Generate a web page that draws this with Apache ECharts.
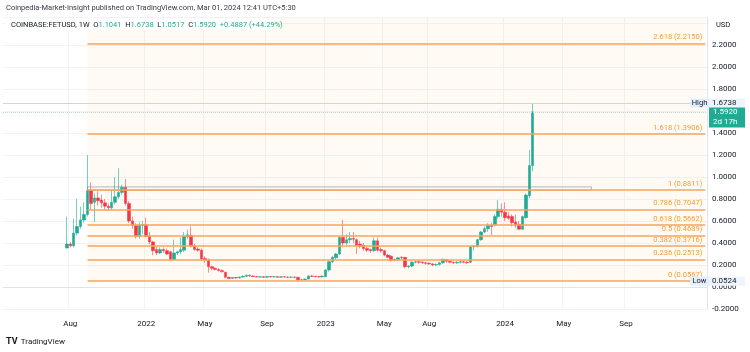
<!DOCTYPE html>
<html>
<head>
<meta charset="utf-8">
<script src="https://cdn.jsdelivr.net/npm/echarts@6/dist/echarts.min.js"></script>
<style>
  html,body{margin:0;padding:0;background:#fff;}
  #main{width:750px;height:352px;}
</style>
</head>
<body>
<div id="main"></div>
<script>
// weekly bars of COINBASE:FETUSD
const firstWeek = '2021-07-26'   // first bar on the chart
// [open, close, low, high]
const ohlc = [
  [0.355,0.39,0.35,0.64],[0.39,0.375,0.36,0.41],[0.375,0.49,0.36,0.62],[0.49,0.55,0.47,0.80],
  [0.55,0.61,0.53,0.73],[0.61,0.66,0.58,0.77],[0.66,0.875,0.64,1.20],[0.875,0.76,0.70,0.95],
  [0.77,0.81,0.59,0.85],[0.81,0.785,0.74,0.87],[0.79,0.765,0.72,0.84],[0.765,0.735,0.70,0.80],
  [0.735,0.72,0.70,0.76],[0.72,0.77,0.70,0.88],[0.77,0.82,0.75,1.00],[0.82,0.86,0.80,1.08],
  [0.86,0.905,0.84,0.93],[0.905,0.76,0.74,0.98],[0.76,0.60,0.58,0.78],[0.60,0.56,0.53,0.64],
  [0.56,0.46,0.44,0.58],[0.46,0.565,0.44,0.59],[0.56,0.565,0.48,0.60],[0.565,0.46,0.45,0.63],
  [0.46,0.41,0.39,0.50],[0.41,0.33,0.29,0.42],[0.34,0.31,0.29,0.37],[0.31,0.34,0.30,0.36],
  [0.34,0.33,0.31,0.36],[0.33,0.30,0.29,0.35],[0.32,0.25,0.24,0.33],[0.25,0.31,0.24,0.43],
  [0.31,0.32,0.29,0.33],[0.32,0.34,0.30,0.45],[0.335,0.46,0.32,0.50],[0.455,0.475,0.44,0.52],
  [0.47,0.375,0.36,0.55],[0.375,0.34,0.33,0.39],[0.345,0.335,0.32,0.36],[0.335,0.255,0.24,0.35],
  [0.26,0.245,0.22,0.28],[0.245,0.185,0.13,0.26],[0.185,0.17,0.15,0.19],[0.17,0.16,0.15,0.18],
  [0.16,0.15,0.14,0.17],[0.15,0.14,0.13,0.16],[0.134,0.088,0.08,0.14],[0.088,0.078,0.07,0.095],
  [0.078,0.086,0.072,0.09],[0.086,0.082,0.075,0.09],[0.082,0.09,0.078,0.095],[0.09,0.097,0.085,0.105],
  [0.097,0.106,0.09,0.115],[0.106,0.1,0.095,0.112],[0.1,0.096,0.09,0.108],[0.096,0.09,0.085,0.1],
  [0.09,0.094,0.085,0.1],[0.094,0.088,0.082,0.1],[0.088,0.095,0.084,0.1],[0.095,0.091,0.086,0.1],
  [0.091,0.094,0.087,0.1],[0.094,0.089,0.085,0.098],[0.089,0.093,0.085,0.098],[0.093,0.09,0.086,0.1],
  [0.09,0.088,0.083,0.096],[0.088,0.09,0.082,0.095],[0.09,0.088,0.08,0.094],[0.088,0.066,0.0524,0.092],
  [0.066,0.067,0.06,0.075],[0.067,0.072,0.063,0.078],[0.072,0.1,0.07,0.105],[0.1,0.097,0.09,0.11],
  [0.097,0.094,0.088,0.1],[0.094,0.092,0.086,0.1],[0.092,0.098,0.088,0.105],[0.094,0.155,0.09,0.16],
  [0.155,0.23,0.14,0.24],[0.23,0.27,0.22,0.28],[0.265,0.30,0.25,0.31],[0.30,0.45,0.29,0.46],
  [0.45,0.40,0.36,0.61],[0.40,0.43,0.38,0.48],[0.43,0.44,0.40,0.50],[0.44,0.435,0.40,0.50],
  [0.43,0.38,0.30,0.44],[0.39,0.37,0.35,0.42],[0.38,0.35,0.33,0.40],[0.35,0.335,0.32,0.37],
  [0.34,0.33,0.31,0.35],[0.33,0.42,0.32,0.45],[0.42,0.335,0.32,0.45],[0.34,0.33,0.31,0.36],
  [0.33,0.29,0.28,0.34],[0.29,0.27,0.26,0.30],[0.28,0.24,0.23,0.29],[0.245,0.25,0.23,0.26],
  [0.25,0.265,0.24,0.275],[0.27,0.265,0.25,0.28],[0.27,0.185,0.17,0.275],[0.185,0.19,0.17,0.2],
  [0.19,0.225,0.18,0.235],[0.225,0.23,0.215,0.24],[0.23,0.225,0.21,0.24],[0.225,0.22,0.21,0.235],
  [0.22,0.215,0.2,0.23],[0.215,0.21,0.2,0.225],[0.21,0.2,0.19,0.22],[0.2,0.205,0.19,0.215],
  [0.205,0.22,0.195,0.23],[0.22,0.25,0.21,0.26],[0.25,0.235,0.22,0.255],[0.235,0.225,0.215,0.24],
  [0.225,0.22,0.21,0.23],[0.22,0.225,0.21,0.235],[0.225,0.23,0.215,0.24],[0.23,0.225,0.215,0.24],
  [0.225,0.22,0.21,0.235],[0.225,0.366,0.22,0.37],[0.366,0.37,0.33,0.38],[0.37,0.43,0.36,0.44],
  [0.43,0.50,0.42,0.51],[0.50,0.53,0.49,0.55],[0.53,0.56,0.50,0.58],[0.56,0.55,0.47,0.58],
  [0.565,0.64,0.55,0.66],[0.64,0.706,0.62,0.79],[0.706,0.68,0.64,0.76],[0.68,0.63,0.60,0.77],
  [0.645,0.625,0.61,0.68],[0.64,0.585,0.55,0.66],[0.59,0.56,0.54,0.66],[0.57,0.525,0.52,0.60],
  [0.525,0.64,0.52,0.65],[0.63,0.836,0.62,0.85],[0.83,1.1041,0.81,1.245],[1.1041,1.592,1.0517,1.6738]
]

// fib retracement drawn on the chart
const fibRatios = ['0','0.236','0.382','0.5','0.618','0.786','1','1.618','2.618']
const fibPrices = [0.0567,0.2513,0.3716,0.4689,0.5662,0.7047,0.8811,1.3906,2.2150]
const fibFromWeek = '2021-09-06'
const boxToWeek = '2024-06-24'
const boxPrices = [0.8811,0.91]

// time axis labels
const tickWeeks = ['2021-08-02','2022-01-03','2022-05-02','2022-09-05','2023-01-02','2023-05-01','2023-07-31','2024-01-01','2024-04-29','2024-09-02']
const tickLabels = ['Aug','2022','May','Sep','2023','May','Aug','2024','May','Sep']

const highPrice = 1.6738, lowPrice = 0.0524, lastPrice = 1.5920

const UP = '#22ab94', DOWN = '#f23645', FIB = '#f6a55a'
const FONT = 'Roboto'

// weekly category axis, monday dates
const axisStart = Date.UTC(2021, 2, 22)
const weeks = []
for (let i = 0; i < 204; i++) {
  weeks.push(new Date(axisStart + i * 7 * 86400000).toISOString().slice(0, 10))
}
const firstIdx = weeks.indexOf(firstWeek)
const candles = ohlc.map((d, i) => [firstIdx + i, d[0], d[1], d[2], d[3]])

const isTick = (i, v) => tickWeeks.indexOf(v) >= 0

const fibLines = fibPrices.map((p, i) => [
  { coord: [fibFromWeek, p], label: { formatter: fibRatios[i] + ' (' + p.toFixed(4) + ')' } },
  { coord: [weeks[weeks.length - 1], p] }
])

const chart = echarts.init(document.getElementById('main'))
chart.setOption({
  animation: false,
  backgroundColor: '#fff',
  textStyle: { fontFamily: FONT },
  grid: { left: 3, right: 43, top: 17.5, height: 291.5 },
  xAxis: {
    type: 'category',
    data: weeks,
    boundaryGap: true,
    offset: 4,
    axisLine: { show: true, lineStyle: { color: '#e0e3eb' } },
    axisTick: { show: false },
    axisLabel: {
      interval: isTick,
      formatter: v => tickLabels[tickWeeks.indexOf(v)],
      color: '#131722', fontSize: 8, margin: 7, fontFamily: FONT
    },
    splitLine: { show: true, interval: isTick, lineStyle: { color: '#f0f3fa' } }
  },
  yAxis: {
    type: 'value',
    position: 'right',
    min: -0.2, max: 2.45, interval: 0.2,
    axisLine: { show: true, lineStyle: { color: '#e0e3eb' } },
    axisTick: { show: false },
    axisLabel: {
      margin: 5, color: '#131722', fontSize: 8, fontFamily: FONT,
      formatter: v => {
        const k = v * 5
        if (Math.abs(k - Math.round(k)) > 1e-6 || v > 2.3) return ''
        return v.toFixed(4)
      }
    },
    splitLine: { lineStyle: { color: '#f0f3fa' } }
  },
  series: [{
    type: 'candlestick',
    data: candles,
    encode: { x: 0, y: [1, 2, 3, 4] },
    barWidth: 3,
    itemStyle: {
      color: UP, color0: DOWN,
      borderColor: 'rgba(34,171,148,0.6)', borderColor0: 'rgba(242,54,69,0.55)', borderWidth: 1
    },
    markArea: {
      silent: true,
      data: [
        [{ coord: [fibFromWeek, fibPrices[0]], itemStyle: { color: 'rgba(255,152,0,0.045)' } },
         { coord: [weeks[weeks.length - 1], 2.45] }],
        [{ coord: [fibFromWeek, boxPrices[0]], itemStyle: { color: 'rgba(0,0,0,0)', borderColor: '#b2b5be', borderWidth: 1 } },
         { coord: [boxToWeek, boxPrices[1]] }]
      ]
    },
    markLine: {
      silent: true,
      symbol: 'none',
      data: fibLines.concat([
        { yAxis: highPrice, lineStyle: { color: '#d1d4dc', type: 'solid', width: 1 }, label: { show: false } },
        { yAxis: lastPrice, lineStyle: { color: '#c5d6d2', type: 'dotted', width: 1 }, label: { show: false } }
      ]),
      lineStyle: { color: FIB, type: 'solid', width: 1.5 },
      label: {
        position: 'insideEndTop', color: '#f29d38', fontSize: 7.5, fontFamily: FONT, distance: [3, 2]
      }
    }
  }]
})

// price badges on the right scale
const yHigh = chart.convertToPixel({ yAxisIndex: 0 }, highPrice)
const yLast = chart.convertToPixel({ yAxisIndex: 0 }, lastPrice)
const yLow = chart.convertToPixel({ yAxisIndex: 0 }, lowPrice)
const badge = (y, name, val) => [
  { type: 'rect', shape: { x: 690, y: y - 4.5, width: 19, height: 9 }, style: { fill: '#e3effd' }, z: 100 },
  { type: 'text', x: 699.5, y: y, style: { text: name, fontSize: 7.5, fontFamily: FONT, fill: '#131722', align: 'center', verticalAlign: 'middle' }, z: 101 },
  { type: 'rect', shape: { x: 709, y: y - 4.5, width: 36, height: 9 }, style: { fill: '#eef4fc' }, z: 100 },
  { type: 'text', x: 712, y: y, style: { text: val, fontSize: 8, fontFamily: FONT, fill: '#131722', verticalAlign: 'middle' }, z: 101 }
]
chart.setOption({
  graphic: [
    { type: 'text', left: 6, top: 4, style: { text: 'Coinpedia-Market-Insight published on TradingView.com, Mar 01, 2024 12:41 UTC+5:30', fontSize: 7.5, fontFamily: FONT, fill: '#363a45' } },
    { type: 'rect', shape: { x: 5, y: 18, width: 265, height: 12 }, style: { fill: 'rgba(255,255,255,0.9)' }, z: 90 },
    { type: 'text', x: 11, y: 25, z: 91, style: {
      text: '{d|COINBASE:FETUSD, 1W  O}{g|1.1041}{d|  H}{g|1.6738}{d|  L}{g|1.0517}{d|  C}{g|1.5920}{g|  +0.4887 (+44.29%)}',
      verticalAlign: 'middle',
      rich: {
        d: { fontSize: 7.5, fontFamily: FONT, fill: '#131722' },
        g: { fontSize: 7.5, fontFamily: FONT, fill: UP }
      }
    } },
    { type: 'text', x: 716, y: 25, style: { text: 'USD', fontSize: 7.5, fontFamily: FONT, fill: '#131722', verticalAlign: 'middle' } },
    ...badge(yHigh, 'High', highPrice.toFixed(4)),
    ...badge(yLow, 'Low', lowPrice.toFixed(4)),
    { type: 'rect', shape: { x: 709, y: yLast - 4.5, width: 36, height: 20 }, style: { fill: UP }, z: 102 },
    { type: 'text', x: 713, y: yLast + 0.5, z: 103, style: { text: lastPrice.toFixed(4), fontSize: 8, fontFamily: FONT, fill: '#fff', verticalAlign: 'middle' } },
    { type: 'text', x: 713, y: yLast + 10, z: 103, style: { text: '2d 17h', fontSize: 8, fontFamily: FONT, fill: '#fff', verticalAlign: 'middle' } },
    { type: 'text', left: 6, top: 336, style: { text: '{b|TV} {n|TradingView}', rich: {
      b: { fontSize: 9, fontWeight: 'bold', fontFamily: FONT, fill: '#131722' },
      n: { fontSize: 8, fontFamily: FONT, fill: '#131722' }
    } } }
  ]
})
</script>
</body>
</html>
